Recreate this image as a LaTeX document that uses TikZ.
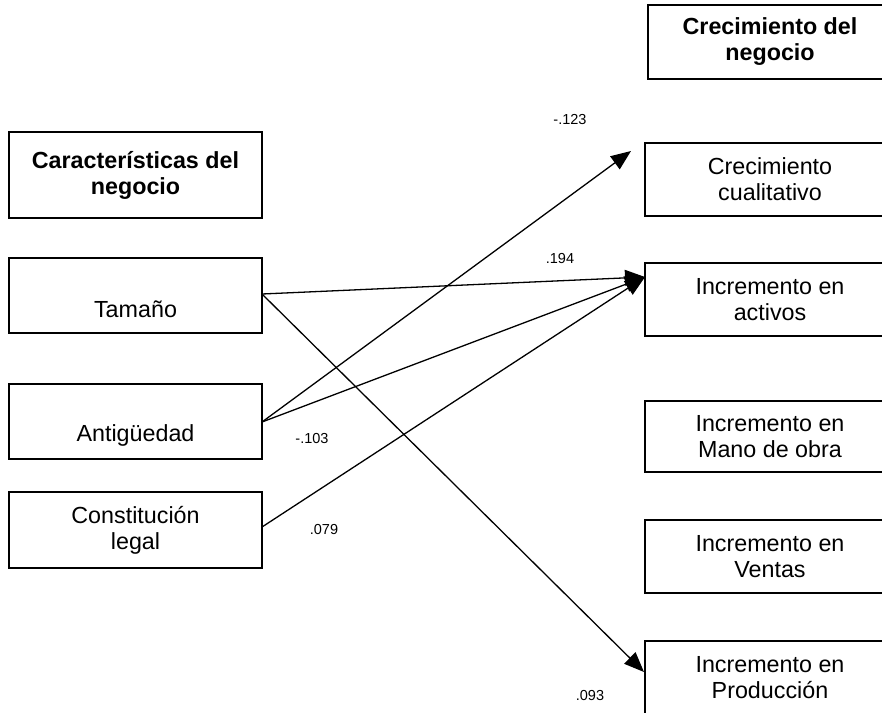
\documentclass[tikz,border=0pt]{standalone}
\usepackage{fontspec}
\setmainfont{Liberation Sans}
\usetikzlibrary{arrows.meta}
\begin{document}
\begin{tikzpicture}[x=1pt,y=-1pt,
  box/.style={draw,line width=1.3pt,rectangle,inner sep=0pt,align=center,
    font=\fontsize{23.3}{26}\selectfont},
  leftbox/.style={box,minimum width=253pt},
  rightbox/.style={box,minimum width=250pt},
  coef/.style={inner sep=0pt,font=\fontsize{14.5}{17}\selectfont},
  path/.style={line width=1.3pt,-{Triangle[length=20pt,width=16pt]}}]
\clip (0,0) rectangle (882,712);
\fill[white] (0,0) rectangle (882,712);

% left column: business characteristics
\node[leftbox,minimum height=86pt,font=\fontsize{23.3}{26}\selectfont\bfseries]
  (carac) at (135.5,175) {Características del\\negocio};
\node[leftbox,minimum height=75pt] (tam) at (135.5,295.5) {\strut\\Tamaño};
\node[leftbox,minimum height=75pt] (ant) at (135.5,421.5) {\strut\\Antigüedad};
\node[leftbox,minimum height=76pt] (cons) at (135.5,530) {Constitución\\legal};

% right column: business growth
\node[rightbox,minimum height=74pt,minimum width=244pt,font=\fontsize{23.3}{26}\selectfont\bfseries]
  (crec) at (770,42) {Crecimiento del\\negocio};
\node[rightbox,minimum height=73pt] (cual) at (770,179.5) {Crecimiento\\cualitativo};
\node[rightbox,minimum height=73pt] (act) at (770,299.5) {Incremento en\\activos};
\node[rightbox,minimum height=71pt] (mano) at (770,436.5) {Incremento en\\Mano de obra};
\node[rightbox,minimum height=73pt] (ven) at (770,556.5) {Incremento en\\Ventas};
\node[rightbox,minimum height=73pt] (prod) at (770,677.5) {Incremento en\\Producción};

% arrow end points
\coordinate (cualTip) at (631,151);
\coordinate (actTip) at (645,277);
\coordinate (prodTip) at (644,672);
\coordinate (tamOut) at (262,294);
\coordinate (antOut) at (262,422);
\coordinate (consOut) at (262,527);

% paths
\draw[path] (tamOut) -- (actTip);
\draw[path] (tamOut) -- (prodTip);
\draw[path] (antOut) -- (cualTip);
\draw[path] (antOut) -- (actTip);
\draw[path] (consOut) -- (actTip);

% coefficients
\node[coef] (c1) at (570,120) {-.123};
\node[coef] (c2) at (560,259) {.194};
\node[coef] (c3) at (312,439) {-.103};
\node[coef] (c4) at (324,529) {.079};
\node[coef] (c5) at (590,695) {.093};
\end{tikzpicture}
\end{document}
